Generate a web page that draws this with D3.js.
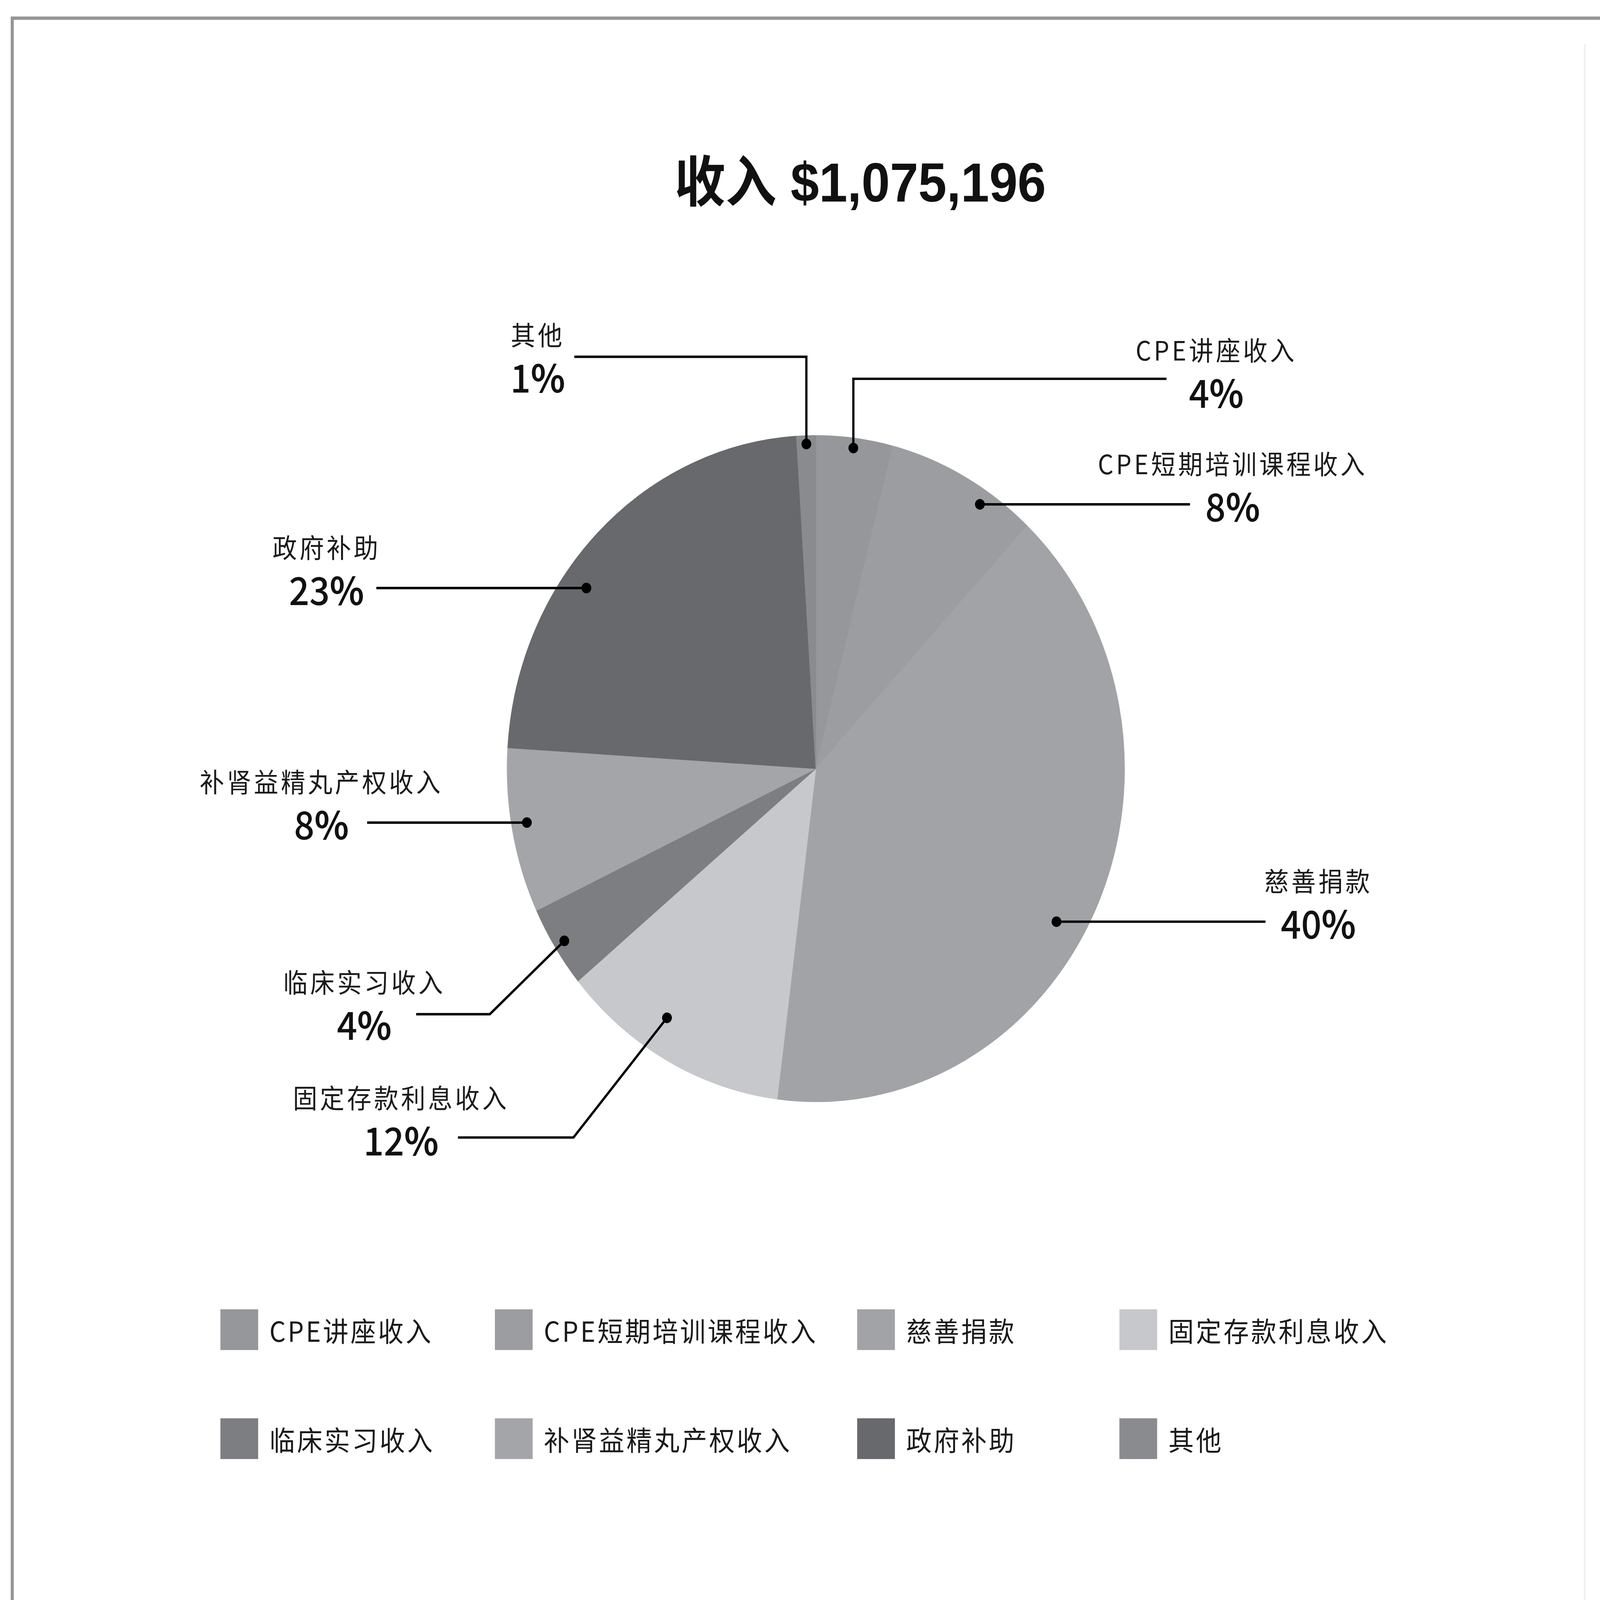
<!DOCTYPE html>
<html>
<head>
<meta charset="utf-8">
<style>
  html, body { margin: 0; padding: 0; background: #fff; overflow: hidden; }
  svg { display: block; width: 100vw; height: 100vh; }
</style>
</head>
<body>
<div class="chart"></div>
<script src="https://d3js.org/d3.v7.min.js"></script>
<script>
// DATA ****************************************************************************
var TITLE = '收入 $1,075,196';
var CATEGORIES = ['CPE讲座收入', 'CPE短期培训课程收入', '慈善捐款', '固定存款利息收入',
                  '临床实习收入', '补肾益精丸产权收入', '政府补助', '其他'];
var SHARES = [4, 8, 40, 12, 4, 8, 23, 1];
var COLORS = ['#95979a', '#9b9da0', '#a1a3a6', '#c6c8cb',
              '#7c7e81', '#a3a5a8', '#67696c', '#898b8e'];

(function() {
    'use strict';

    // CANVAS *************************************************************************
    // draw in the 1568 x 1453 units of the reference, stretched to fill the window
    var W = 1568, H = 1453;
    var svg = d3.select('.chart').append('svg')
                .attr('viewBox', '0 0 ' + W + ' ' + H)
                .attr('preserveAspectRatio', 'none');

    var CJK = '"Noto Sans CJK SC", "Noto Sans", sans-serif';

    // frame
    svg.append('path')
        .attr('d', 'M12,' + H + 'V16.5H' + W)
        .attr('fill', 'none')
        .attr('stroke', '#959595')
        .attr('stroke-width', 3);
    svg.append('line')
        .attr('x1', 1553).attr('x2', 1553).attr('y1', 40).attr('y2', H)
        .attr('stroke', '#eeeeee').attr('stroke-width', 1.5);

    // TITLE ****************************************************************************
    svg.append('text')
        .attr('x', 843)
        .attr('y', 183)
        .attr('text-anchor', 'middle')
        .attr('font-family', '"Liberation Sans", ' + CJK)
        .attr('font-weight', 'bold')
        .attr('font-size', 50)
        .attr('fill', '#111')
        .text(TITLE);

    // PIE ******************************************************************************
    var cx = 799.5, cy = 698, R = 302.5;
    var data = CATEGORIES.map(function(c, i) {
        return {key: c, value: SHARES[i], color: COLORS[i]};
    });

    var pie = d3.pie().sort(null).value(function(d) { return d.value; });
    var arc = d3.arc().innerRadius(0).outerRadius(R);
    var arcs = pie(data);

    var pieG = svg.append('g')
                  .attr('transform', 'translate(' + cx + ',' + cy + ')');
    pieG.selectAll('path')
        .data(arcs)
        .enter()
        .append('path')
        .attr('d', arc)
        .attr('fill', function(d) { return d.data.color; })
        .attr('stroke', function(d) { return d.data.color; })
        .attr('stroke-width', 0.6);

    // LABELS ***************************************************************************
    // label placement: centre x and name row y of each text block, leader type
    //   h = straight line at the % row, v = across then down, d = across then diagonal
    var LABEL_LAYOUT = [
        {x: 1192, y: 317, type: 'v', lineY: 344, rf: 0.97, gap: 22},
        {x: 1208, y: 420, type: 'h', rf: 0.955, gap: 15},
        {x: 1292, y: 799, type: 'h', rf: 0.905, gap: 15},
        {x: 393,  y: 996, type: 'd', lineY: 1033, elbowX: 562, rf: 0.89, da: 4, gap: 19},
        {x: 357,  y: 891, type: 'd', lineY: 921, elbowX: 480, rf: 0.965, da: 0, gap: 24},
        {x: 315,  y: 709, type: 'h', rf: 0.95, gap: 18},
        {x: 320,  y: 496, type: 'h', rf: 0.92, gap: 12},
        {x: 527,  y: 303, type: 'v', lineY: 324, rf: 0.975, gap: 9}
    ];
    var PCT_DY = 38;

    var labelG = svg.append('g');

    arcs.forEach(function(a, i) {
        var lay = LABEL_LAYOUT[i];
        var g = labelG.append('g');

        g.append('text')
            .attr('x', lay.x)
            .attr('y', lay.y)
            .attr('text-anchor', 'middle')
            .attr('dominant-baseline', 'central')
            .attr('font-family', CJK)
            .attr('font-size', 24)
            .attr('letter-spacing', 2.5)
            .attr('fill', '#1a1a1a')
            .text(a.data.key);

        var pct = g.append('text')
            .attr('x', lay.x)
            .attr('y', lay.y + PCT_DY)
            .attr('text-anchor', 'middle')
            .attr('dominant-baseline', 'central')
            .attr('font-family', CJK)
            .attr('font-size', 35)
            .attr('fill', '#111');
        pct.append('tspan').attr('font-weight', 500).text(a.data.value);
        pct.append('tspan').attr('font-weight', 700).text('%');

        var box = pct.node().getBBox();
        var right = lay.x > cx;
        var x0 = right ? box.x - lay.gap : box.x + box.width + lay.gap;

        var mid = (a.startAngle + a.endAngle) / 2 + (lay.da || 0) * Math.PI / 180;
        var rr = lay.rf * R;
        var dot, pts;

        if (lay.type === 'h') {
            var yy = lay.y + PCT_DY;
            var dy = yy - cy;
            var dx = Math.sqrt(rr * rr - dy * dy);
            dot = [cx + (right ? dx : -dx), yy];
            pts = [[x0, yy], dot];
        } else {
            dot = [cx + rr * Math.sin(mid), cy - rr * Math.cos(mid)];
            if (lay.type === 'v') {
                pts = [[x0, lay.lineY], [dot[0], lay.lineY], dot];
            } else {
                pts = [[x0, lay.lineY], [lay.elbowX, lay.lineY], dot];
            }
        }

        labelG.append('path')
            .attr('d', d3.line()(pts))
            .attr('fill', 'none')
            .attr('stroke', '#000')
            .attr('stroke-width', 2.2);
        labelG.append('circle')
            .attr('cx', dot[0])
            .attr('cy', dot[1])
            .attr('r', 4.8)
            .attr('fill', '#000');
    });

    // LEGEND ***************************************************************************
    var LEGEND_COLS = [216, 485, 840, 1097];
    var LEGEND_ROWS = [1189, 1288];
    var SW = 37;

    var legend = svg.append('g')
                    .selectAll('g')
                    .data(data)
                    .enter()
                    .append('g')
                    .attr('transform', function(d, i) {
                        return 'translate(' + LEGEND_COLS[i % 4] + ',' + LEGEND_ROWS[Math.floor(i / 4)] + ')';
                    });
    legend.append('rect')
        .attr('width', SW)
        .attr('height', SW)
        .attr('fill', function(d) { return d.color; });
    legend.append('text')
        .attr('x', 48)
        .attr('y', SW / 2)
        .attr('dominant-baseline', 'central')
        .attr('font-family', CJK)
        .attr('font-size', 25)
        .attr('letter-spacing', 2)
        .attr('fill', '#1a1a1a')
        .text(function(d) { return d.key; });

}());
</script>
</body>
</html>
